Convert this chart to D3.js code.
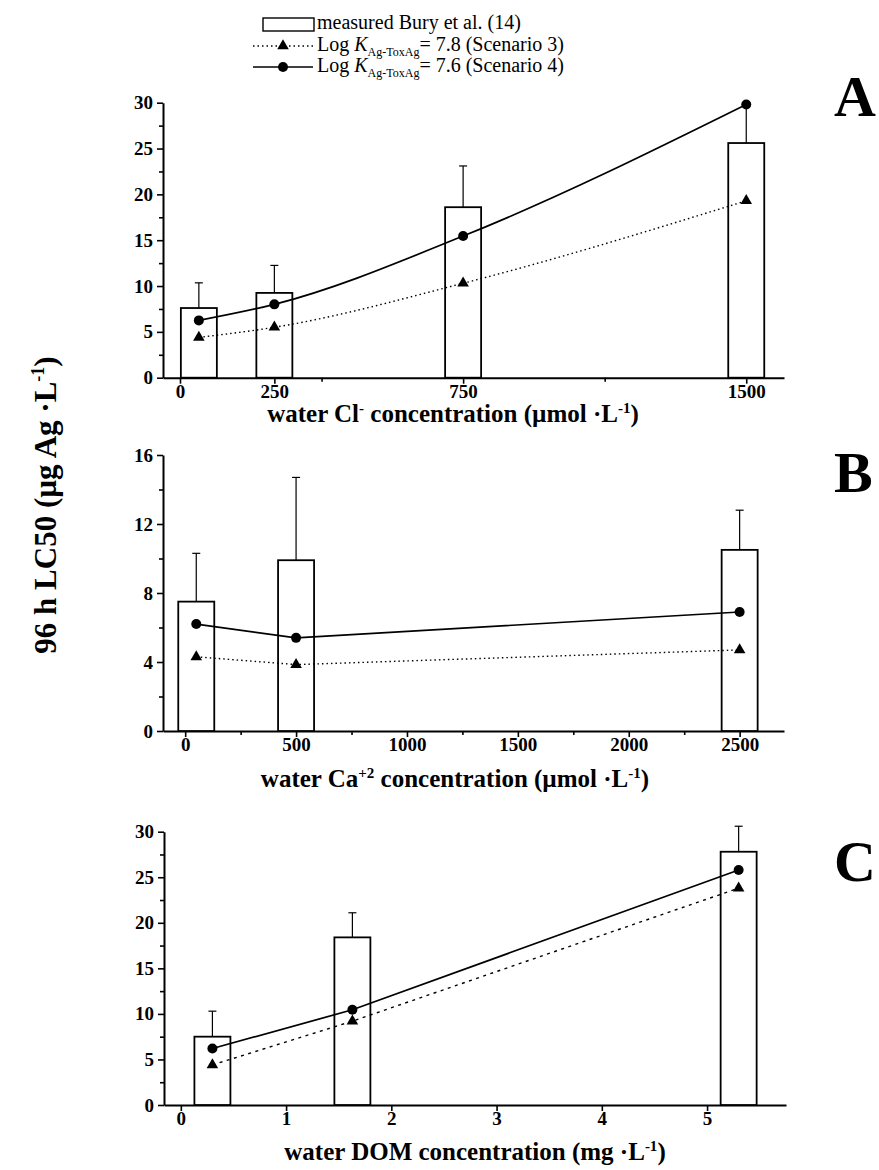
<!DOCTYPE html>
<html>
<head>
<meta charset="utf-8">
<script src="https://cdn.jsdelivr.net/npm/d3@7"></script>
<style>
  html, body { margin: 0; padding: 0; background: #fff; }
  svg { display: block; }
  text { font-family: "Liberation Serif", "Times New Roman", serif; fill: #000; }
</style>
</head>
<body>
<svg id="chart" width="879" height="1170"></svg>
<script>
// ---------------- DATA ----------------
// Panel A: chloride
const panelA_x = [50, 250, 750, 1500];
const panelA_measured = [7.6, 9.25, 18.6, 25.6];
const panelA_errTop = [10.35, 12.25, 23.1, 29.8];
const panelA_scen3 = [4.4, 5.5, 10.3, 19.3];
const panelA_scen4 = [6.25, 8.0, 15.45, 29.8];
const panelA_xTicks = [0, 250, 750, 1500];
const panelA_xMinor = [375, 1125];
const panelA_yTicks = [0, 5, 10, 15, 20, 25, 30];
const panelA_yMinor = [2.5, 7.5, 12.5, 17.5, 22.5, 27.5];

// Panel B: calcium
const panelB_x = [50, 500, 2500];
const panelB_measured = [7.5, 9.9, 10.5];
const panelB_errTop = [10.3, 14.7, 12.8];
const panelB_scen3 = [4.3, 3.85, 4.7];
const panelB_scen4 = [6.2, 5.4, 6.9];
const panelB_xTicks = [0, 500, 1000, 1500, 2000, 2500];
const panelB_xMinor = [250, 750, 1250, 1750, 2250];
const panelB_yTicks = [0, 4, 8, 12, 16];
const panelB_yMinor = [2, 6, 10, 14];

// Panel C: DOM
const panelC_x = [0.3, 1.63, 5.3];
const panelC_measured = [7.5, 18.4, 27.8];
const panelC_errTop = [10.3, 21.1, 30.6];
const panelC_scen3 = [4.4, 9.2, 23.8];
const panelC_scen4 = [6.2, 10.45, 25.8];
const panelC_xTicks = [0, 1, 2, 3, 4, 5];
const panelC_xMinor = [];
const panelC_yTicks = [0, 5, 10, 15, 20, 25, 30];
const panelC_yMinor = [2.5, 7.5, 12.5, 17.5, 22.5, 27.5];

const legendLabels = ["measured Bury et al. (14)", "= 7.8 (Scenario 3)", "= 7.6 (Scenario 4)"];

// ---------------- LAYOUT ----------------
const svg = d3.select("#chart");

const panels = [
  { letter: "A", x: panelA_x, measured: panelA_measured, errTop: panelA_errTop, s3: panelA_scen3, s4: panelA_scen4,
    xTicks: panelA_xTicks, xMinor: panelA_xMinor, yTicks: panelA_yTicks, yMinor: panelA_yMinor,
    xDomain: [-45, 1600], yDomain: [0, 30], left: 163, right: 784, top: 102.7, bottom: 377.7,
    curve: d3.curveMonotoneX, dash3: "1.5,3", titleX: 453, titleY: 422, letterY: 116,
    title: [["water Cl", 0], ["-", 1], [" concentration (µmol ·L", 0], ["-1", 1], [")", 0]] },
  { letter: "B", x: panelB_x, measured: panelB_measured, errTop: panelB_errTop, s3: panelB_scen3, s4: panelB_scen4,
    xTicks: panelB_xTicks, xMinor: panelB_xMinor, yTicks: panelB_yTicks, yMinor: panelB_yMinor,
    xDomain: [-100, 2700], yDomain: [0, 16], left: 163, right: 784, top: 455, bottom: 731,
    curve: d3.curveLinear, dash3: "1.5,3", titleX: 455, titleY: 787, letterY: 492,
    title: [["water Ca", 0], ["+2", 1], [" concentration (µmol ·L", 0], ["-1", 1], [")", 0]] },
  { letter: "C", x: panelC_x, measured: panelC_measured, errTop: panelC_errTop, s3: panelC_scen3, s4: panelC_scen4,
    xTicks: panelC_xTicks, xMinor: panelC_xMinor, yTicks: panelC_yTicks, yMinor: panelC_yMinor,
    xDomain: [-0.16, 5.75], yDomain: [0, 30], left: 164, right: 786, top: 831.7, bottom: 1105,
    curve: d3.curveLinear, dash3: "3,4.5", titleX: 475, titleY: 1160, letterY: 881,
    title: [["water DOM concentration (mg ·L", 0], ["-1", 1], [")", 0]] }
];

const barW = 36;
const tickFont = "bold 19px 'Liberation Serif', serif";

panels.forEach(p => {
  const g = svg.append("g");
  const x = d3.scaleLinear().domain(p.xDomain).range([p.left, p.right]);
  const y = d3.scaleLinear().domain(p.yDomain).range([p.bottom, p.top]);

  // X axis (major)
  g.append("g").attr("transform", `translate(0,${p.bottom})`)
    .call(d3.axisBottom(x).tickValues(p.xTicks).tickSize(6).tickSizeOuter(0).tickPadding(1).tickFormat(d3.format("d")));
  // X axis minor
  g.append("g").attr("transform", `translate(0,${p.bottom})`)
    .call(d3.axisBottom(x).tickValues(p.xMinor).tickSize(4).tickSizeOuter(0).tickFormat(""))
    .select(".domain").remove();
  // Y axis
  g.append("g").attr("transform", `translate(${p.left},0)`)
    .call(d3.axisLeft(y).tickValues(p.yTicks).tickSize(6).tickSizeOuter(0).tickPadding(4).tickFormat(d3.format("d")));
  g.append("g").attr("transform", `translate(${p.left},0)`)
    .call(d3.axisLeft(y).tickValues(p.yMinor).tickSize(4).tickSizeOuter(0).tickFormat(""))
    .select(".domain").remove();

  g.selectAll(".domain").attr("stroke", "#000").attr("stroke-width", 2);
  g.selectAll(".tick line").attr("stroke", "#000").attr("stroke-width", 1.6);
  g.selectAll(".tick text").style("font", tickFont).attr("fill", "#000");

  // Bars
  g.selectAll("rect.bar").data(p.measured).join("rect")
    .attr("class", "bar")
    .attr("x", (d, i) => x(p.x[i]) - barW / 2)
    .attr("y", d => y(d))
    .attr("width", barW)
    .attr("height", d => y(p.yDomain[0]) - y(d))
    .attr("fill", "#fff").attr("stroke", "#000").attr("stroke-width", 1.8);

  // Error bars (upper only)
  p.errTop.forEach((e, i) => {
    const cx = x(p.x[i]);
    g.append("line").attr("x1", cx).attr("x2", cx).attr("y1", y(p.measured[i])).attr("y2", y(e))
      .attr("stroke", "#000").attr("stroke-width", 1.2);
    g.append("line").attr("x1", cx - 4).attr("x2", cx + 4).attr("y1", y(e)).attr("y2", y(e))
      .attr("stroke", "#000").attr("stroke-width", 1.2);
  });

  // Lines
  const line = d3.line().curve(p.curve).x((d, i) => x(p.x[i])).y(d => y(d));
  g.append("path").datum(p.s3).attr("d", line).attr("fill", "none")
    .attr("stroke", "#000").attr("stroke-width", 1.4).attr("stroke-dasharray", p.dash3);
  g.append("path").datum(p.s4).attr("d", line).attr("fill", "none")
    .attr("stroke", "#000").attr("stroke-width", 1.7);

  // Markers
  const tri = d3.symbol().type(d3.symbolTriangle).size(58);
  g.selectAll("path.tri").data(p.s3).join("path").attr("class", "tri")
    .attr("d", tri).attr("transform", (d, i) => `translate(${x(p.x[i])},${y(d)})`).attr("fill", "#000");
  g.selectAll("circle.dot").data(p.s4).join("circle").attr("class", "dot")
    .attr("cx", (d, i) => x(p.x[i])).attr("cy", d => y(d)).attr("r", 5).attr("fill", "#000");

  // Axis title
  const t = g.append("text").attr("x", p.titleX).attr("y", p.titleY)
    .attr("text-anchor", "middle").style("font", "bold 25px 'Liberation Serif', serif");
  p.title.forEach(([s, sup], k) => {
    const prevSup = k > 0 ? p.title[k - 1][1] : 0;
    const ts = t.append("tspan").text(s);
    if (sup) ts.attr("dy", -9).style("font-size", "15px");
    else if (prevSup) ts.attr("dy", 9).style("font-size", "25px");
  });

  // Panel letter
  g.append("text").attr("x", 834).attr("y", p.letterY)
    .style("font", "bold 58px 'Liberation Serif', serif").text(p.letter);
});

// Y axis title (shared)
const yt = svg.append("text")
  .attr("transform", "translate(56,505) rotate(-90)")
  .attr("text-anchor", "middle")
  .style("font", "bold 31px 'Liberation Serif', serif");
yt.append("tspan").text("96 h LC50 (µg Ag ·L");
yt.append("tspan").attr("dy", -12).style("font-size", "18px").text("-1");
yt.append("tspan").attr("dy", 12).style("font-size", "31px").text(")");

// ---------------- LEGEND ----------------
const lg = svg.append("g");
const legFont = "20px 'Liberation Serif', serif";
lg.append("rect").attr("x", 263).attr("y", 18).attr("width", 51).attr("height", 13)
  .attr("fill", "#fff").attr("stroke", "#000").attr("stroke-width", 1.4);
lg.append("text").attr("x", 317).attr("y", 29).style("font", legFont).text(legendLabels[0]);

// row 2 (scenario 3)
lg.append("line").attr("x1", 253).attr("x2", 313).attr("y1", 46).attr("y2", 46)
  .attr("stroke", "#000").attr("stroke-width", 1.3).attr("stroke-dasharray", "1.5,3");
lg.append("path").attr("d", d3.symbol().type(d3.symbolTriangle).size(58)())
  .attr("transform", "translate(283,46)").attr("fill", "#000");
// row 3 (scenario 4)
lg.append("line").attr("x1", 253).attr("x2", 313).attr("y1", 67).attr("y2", 67)
  .attr("stroke", "#000").attr("stroke-width", 1.7);
lg.append("circle").attr("cx", 283).attr("cy", 67).attr("r", 5).attr("fill", "#000");

[[51, legendLabels[1]], [72, legendLabels[2]]].forEach(([yy, lab]) => {
  const t = lg.append("text").attr("x", 317).attr("y", yy).style("font", legFont);
  t.append("tspan").text("Log ");
  t.append("tspan").style("font-style", "italic").text("K");
  t.append("tspan").attr("dy", 5).style("font-size", "12px").text("Ag-ToxAg");
  t.append("tspan").attr("dy", -5).style("font-size", "20px").text(lab);
});
</script>
</body>
</html>
